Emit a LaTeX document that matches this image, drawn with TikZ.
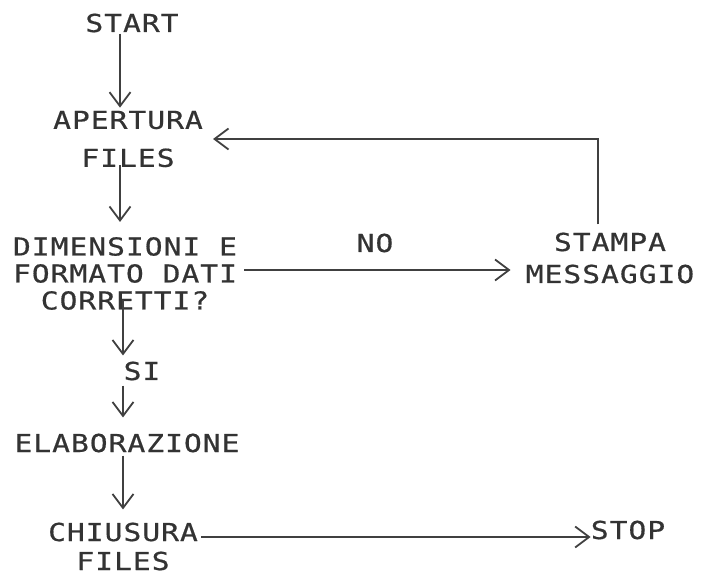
\documentclass[tikz,border=0pt]{standalone}
\usepackage{fontspec}
\setmonofont{DejaVu Sans Mono}[FakeStretch=1.2,LetterSpace=4,FakeBold=0.6]
\usetikzlibrary{arrows.meta}
\tikzset{
  lbl/.style={inner sep=0pt,align=center,text=black!80},
  flow/.style={->,line width=1.8pt,draw=black!75}
}

\begin{document}
\begin{tikzpicture}[x=1pt,y=-1pt,>={Straight Barb[length=14pt,width=21pt]},font=\ttfamily\fontsize{24.7}{27}\selectfont]
\useasboundingbox (0,0) rectangle (703,576);
\node[lbl] (start) at (132,23) {START};
\node[lbl] (apertura) at (128,139) {APERTURA\\[11pt]FILES};
\node[lbl] (controllo) at (125,273.5) {DIMENSIONI E\\FORMATO DATI\\CORRETTI?};
\node[lbl] (si) at (142,371) {SI};
\node[lbl] (elab) at (127,443) {ELABORAZIONE};
\node[lbl] (chiusura) at (123,546.5) {CHIUSURA\\[2pt]FILES};
\node[lbl] (stop) at (628,530) {STOP};
\node[lbl] (no) at (375,243) {NO};
\node[lbl] (stampa) at (610,258) {STAMPA\\[5pt]MESSAGGIO};
\draw[flow] ([xshift=-12pt,yshift=-1pt]start.south) -- ([xshift=-8pt,yshift=3pt]apertura.north);
\draw[flow] ([xshift=-8pt,yshift=2pt]apertura.south) -- ([xshift=-5pt,yshift=15pt]controllo.north);
\draw[flow] ([xshift=-2pt,yshift=10pt]controllo.south) -- ([xshift=-19pt,yshift=6pt]si.north);
\draw[flow] ([xshift=-19pt,yshift=-5pt]si.south) -- ([xshift=-4pt,yshift=16pt]elab.north);
\draw[flow] ([xshift=-4pt,yshift=-3pt]elab.south) -- ([yshift=13pt]chiusura.north);
\draw[flow] ([xshift=7pt,yshift=3.5pt]controllo.east) -- ([xshift=-15pt,yshift=-12pt]stampa.west);
\draw[flow] ([xshift=-12pt,yshift=8pt]stampa.north) |- ([xshift=10pt]apertura.east);
\draw[flow] ([xshift=3pt,yshift=9.5pt]chiusura.east) -- ([yshift=-7pt]stop.west);
\end{tikzpicture}
\end{document}
